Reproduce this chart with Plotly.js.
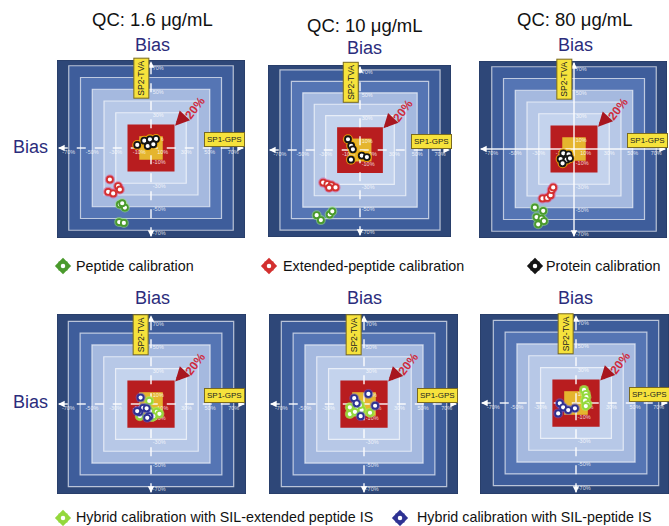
<!DOCTYPE html>
<html>
<head>
<meta charset="utf-8">
<script src="https://cdn.plot.ly/plotly-3.0.1.min.js"></script>
<style>html,body{margin:0;padding:0;background:#fff;}#chart{width:669px;height:526px;}</style>
</head>
<body>
<div id="chart"></div>
<script>
// ---------------- DATA ----------------
const qcTitles = ['QC: 1.6 μg/mL', 'QC: 10 μg/mL', 'QC: 80 μg/mL'];
const biasLabel = 'Bias';
const tickVals = [-70, -50, -30, -10, 10, 30, 50, 70];
const tickLabels = ['-70%', '-50%', '-30%', '-10%', '10%', '30%', '50%', '70%'];
const ringLevels = [70, 60, 50, 40, 30];
const redLevel = 20;
const yellowLevel = 10;
const axisXLabel = 'SP1-GPS';
const axisYLabel = 'SP2-TVA';
const limitLabel = '20%';

// Top row (per QC level): bias on SP1-GPS (x) and SP2-TVA (y), %
const peptideX  = [[-26.5, -22.2, -24.5, -27.1, -23.1], [-37.9, -34.2, -26.5, -24.2], [-33.3, -26.2, -31.9, -27.6, -25.6, -30.5]];
const peptideY  = [[-48.1, -50.7, -47.0, -63.0, -63.8], [-57.0, -61.3, -56.4, -53.6], [-49.8, -52.6, -57.9, -59.2, -61.3, -64.1]];
const extendedX = [[-35.0, -28.0, -26.5, -36.5, -32.2], [-32.2, -28.5, -25.0, -21.4, -27.0], [-26.8, -22.8, -19.9, -19.0, -17.7]];
const extendedY = [[-26.8, -32.5, -35.3, -37.3, -38.7], [-28.5, -29.9, -30.8, -32.7, -33.0], [-42.1, -41.6, -39.3, -35.0, -32.7]];
const proteinX  = [[-11.7, -5.7, -0.9, 4.3, -2.8, 2.0], [-10.5, -7.7, -6.2, -7.9, 1.5, 6.0], [-9.1, -4.6, -11.4, -6.3, -9.7, -3.4]];
const proteinY  = [[2.6, 6.2, 7.4, 7.7, 1.7, 3.2], [9.4, 3.7, 0.6, -8.5, -4.9, -6.2], [-3.7, -4.5, -8.5, -9.1, -12.2, -7.9]];
// Bottom row (per QC level)
const silExtX = [[-1.5, -0.9, 4.9, 7.1, 0.6, -9.4, 2.0], [-12.0, -5.7, -2.0, -12.0, -7.7, 5.1, -3.4], [6.8, 8.3, 8.8, 7.7, 9.7, 8.3]];
const silExtY = [[2.6, -6.0, -6.6, -8.3, -11.1, -10.3, -10.3], [-2.8, -3.7, -5.1, -8.5, -6.6, -7.4, -0.9], [11.1, 7.7, 4.9, 2.0, -0.9, -2.6]];
const silPepX = [[-8.8, -6.6, -10.0, -3.7, -1.5, -11.7, -3.2], [3.7, -8.3, -6.2, 9.4, -2.8], [-15.1, -13.7, -10.9, -6.6, -0.9]];
const silPepY = [[5.4, -3.2, -6.8, -3.7, -10.3, -6.0, -11.7], [8.5, 4.9, 0.6, -1.5, -10.3], [-8.8, -0.3, -3.7, -6.0, -4.5]];

const topSeries = ['Peptide calibration', 'Extended-peptide calibration', 'Protein calibration'];
const bottomSeries = ['Hybrid calibration with SIL-extended peptide IS', 'Hybrid calibration with SIL-peptide IS'];

// ---------------- STYLE / LAYOUT ----------------
const W = 669, H = 526;
const FONT = '"Liberation Sans", Arial, sans-serif';
const panelsGeom = [
  {l: 57, r: 245, t: 60, b: 238, cx: 151, cy: 148, dash: 'dash'},
  {l: 268, r: 451, t: 65, b: 237, cx: 360, cy: 150, dash: 'dash'},
  {l: 479, r: 667, t: 61, b: 238, cx: 574, cy: 149, dash: 'solid'},
  {l: 57, r: 246, t: 314, b: 494, cx: 151, cy: 404, dash: 'dash'},
  {l: 269, r: 458, t: 314, b: 494, cx: 364, cy: 404, dash: 'dash'},
  {l: 480, r: 669, t: 314, b: 494, cx: 576, cy: 403, dash: 'dash'}
];
const bgColor = '#2e4778';
const ringColors = ['#3e5d9b', '#5575b4', '#a5b9df', '#b7c8e7', '#c4d3ed'];
const redColor = '#b81d1f';
const yellowColor = '#e5b52e';
const colPeptide = '#4a9a2c', colExtended = '#d3302f', colProtein = '#151515';
const colSilExt = '#94d83c', colSilPep = '#2e3293';

const traces = [];
const shapes = [];
const annotations = [];
const layout = {
  width: W, height: H,
  margin: {l: 0, r: 0, t: 0, b: 0},
  paper_bgcolor: '#ffffff',
  plot_bgcolor: 'rgba(0,0,0,0)',
  showlegend: false,
  font: {family: FONT}
};

function pointsTrace(xs, ys, col, halo, ax, ay, name) {
  traces.push({
    type: 'scatter', mode: 'markers', x: xs, y: ys, xaxis: ax, yaxis: ay, hoverinfo: 'skip',
    marker: {symbol: 'circle', size: 10, color: halo, line: {width: 0}}, name: name + ' halo', cliponaxis: false
  });
  traces.push({
    type: 'scatter', mode: 'markers', x: xs, y: ys, xaxis: ax, yaxis: ay, name: name,
    marker: {symbol: 'circle', size: 6, color: '#ffffff', line: {color: col, width: 1.8}}, cliponaxis: false
  });
}

panelsGeom.forEach((g, i) => {
  const n = i + 1;
  const sfx = n === 1 ? '' : String(n);
  const xa = 'x' + sfx, ya = 'y' + sfx;
  const s = (g.r - g.l) / 160;
  const xr = [(g.l - g.cx) / s, (g.r - g.cx) / s];
  const yr = [(g.cy - g.b) / s, (g.cy - g.t) / s];
  const axCommon = {visible: false, showgrid: false, zeroline: false, fixedrange: true};
  layout['xaxis' + sfx] = Object.assign({}, axCommon, {domain: [g.l / W, g.r / W], range: xr, anchor: ya});
  layout['yaxis' + sfx] = Object.assign({}, axCommon, {domain: [1 - g.b / H, 1 - g.t / H], range: yr, anchor: xa});

  // background + rings
  shapes.push({type: 'rect', xref: xa, yref: ya, x0: xr[0], x1: xr[1], y0: yr[0], y1: yr[1],
    fillcolor: bgColor, line: {color: '#24385f', width: 1}, layer: 'below'});
  ringLevels.forEach((L, k) => {
    shapes.push({type: 'rect', xref: xa, yref: ya, x0: -L, x1: L, y0: -L, y1: L,
      fillcolor: ringColors[k], line: {color: 'rgba(255,255,255,0.65)', width: 1.2}, layer: 'below'});
  });
  shapes.push({type: 'rect', xref: xa, yref: ya, x0: -redLevel, x1: redLevel, y0: -redLevel, y1: redLevel,
    fillcolor: redColor, line: {width: 0}, layer: 'below'});
  shapes.push({type: 'rect', xref: xa, yref: ya, x0: -yellowLevel, x1: yellowLevel, y0: -yellowLevel, y1: yellowLevel,
    fillcolor: yellowColor, line: {width: 0}, layer: 'below'});
  // axes lines
  shapes.push({type: 'line', xref: xa, yref: ya, x0: xr[0] + 1.5, x1: xr[1] - 1.5, y0: 0, y1: 0,
    line: {color: 'rgba(255,255,255,0.9)', width: 1.5, dash: g.dash}, layer: 'below'});
  shapes.push({type: 'line', xref: xa, yref: ya, x0: 0, x1: 0, y0: yr[0] + 1.5, y1: yr[1] - 1.5,
    line: {color: 'rgba(255,255,255,0.9)', width: 1.5, dash: g.dash}, layer: 'below'});
  // arrow heads at axis ends
  const ends = [[xr[0] + 1, 0, xr[0] + 5, 0], [xr[1] - 1, 0, xr[1] - 5, 0], [0, yr[0] + 1, 0, yr[0] + 5], [0, yr[1] - 1, 0, yr[1] - 5]];
  ends.forEach(e => {
    annotations.push({xref: xa, yref: ya, axref: xa, ayref: ya, x: e[0], y: e[1], ax: e[2], ay: e[3], text: '',
      showarrow: true, arrowhead: 2, arrowsize: 1, arrowwidth: 1.3, arrowcolor: '#ffffff'});
  });

  // tick labels (text traces)
  traces.push({type: 'scatter', mode: 'text', x: tickVals, y: tickVals.map(() => -3.8), text: tickLabels,
    textposition: 'middle center', textfont: {size: 5.5, color: 'rgba(255,255,255,0.8)', family: FONT},
    xaxis: xa, yaxis: ya, hoverinfo: 'skip', cliponaxis: false});
  traces.push({type: 'scatter', mode: 'text', x: tickVals.map(() => 1.5), y: tickVals.map(v => v - 2.5),
    text: tickLabels,
    textposition: 'middle right', textfont: {size: 5.5, color: 'rgba(255,255,255,0.8)', family: FONT},
    xaxis: xa, yaxis: ya, hoverinfo: 'skip', cliponaxis: false});

  // axis name boxes
  annotations.push({xref: xa, yref: ya, x: -8.5, y: 59, text: axisYLabel, textangle: -90, showarrow: false,
    font: {size: 8.5, color: '#222', family: FONT}, bgcolor: '#f6e23c', bordercolor: '#7a6a20', borderwidth: 1, borderpad: 2});
  annotations.push({xref: xa, yref: ya, x: 62.5, y: 7.5, text: axisXLabel, showarrow: false,
    font: {size: 8, color: '#222', family: FONT}, bgcolor: '#f6e23c', bordercolor: '#7a6a20', borderwidth: 1, borderpad: 2});
  // 20% arrow and label
  annotations.push({xref: xa, yref: ya, axref: xa, ayref: ya, x: redLevel + 0.5, y: redLevel - 1, ax: 29, ay: 28, text: '',
    showarrow: true, arrowhead: 2, arrowsize: 0.75, arrowwidth: 3.8, arrowcolor: '#a8161f'});
  annotations.push({xref: xa, yref: ya, x: 37.5, y: 34, text: '<b>' + limitLabel + '</b>', textangle: -52, showarrow: false,
    font: {size: 12, color: '#cf2b3c', family: FONT}});

  // data
  if (i < 3) {
    pointsTrace(peptideX[i], peptideY[i], colPeptide, 'rgba(150,230,120,0.55)', xa, ya, topSeries[0]);
    pointsTrace(extendedX[i], extendedY[i], colExtended, 'rgba(230,60,120,0.5)', xa, ya, topSeries[1]);
    pointsTrace(proteinX[i], proteinY[i], colProtein, 'rgba(240,170,0,0.85)', xa, ya, topSeries[2]);
  } else {
    const j = i - 3;
    pointsTrace(silExtX[j], silExtY[j], colSilExt, 'rgba(170,240,80,0.7)', xa, ya, bottomSeries[0]);
    pointsTrace(silPepX[j], silPepY[j], colSilPep, 'rgba(90,90,220,0.5)', xa, ya, bottomSeries[1]);
  }
});

// overlay axis in pixel space for legend icons (gear-like)
layout.xaxis7 = {domain: [0, 1], range: [0, W], visible: false, fixedrange: true, anchor: 'y7'};
layout.yaxis7 = {domain: [0, 1], range: [H, 0], visible: false, fixedrange: true, anchor: 'x7'};
const legendIconX = [63, 269, 535, 63, 400];
const legendIconY = [266, 266, 266, 518, 518];
const legendIconCol = [colPeptide, colExtended, colProtein, colSilExt, colSilPep];
[['circle', 9], ['square', 9], ['diamond', 12.5]].forEach(sd => {
  traces.push({type: 'scatter', mode: 'markers', x: legendIconX, y: legendIconY, xaxis: 'x7', yaxis: 'y7', hoverinfo: 'skip',
    marker: {symbol: sd[0], size: sd[1], color: legendIconCol, line: {width: 0}}});
});
traces.push({type: 'scatter', mode: 'markers', x: legendIconX, y: legendIconY, xaxis: 'x7', yaxis: 'y7', hoverinfo: 'skip',
  marker: {symbol: 'circle', size: 4.5, color: '#ffffff', line: {width: 0}}});

// text annotations in paper space
function pAnn(text, px, py, size, color, xanchor) {
  annotations.push({xref: 'paper', yref: 'paper', x: px / W, y: 1 - py / H, text: text, showarrow: false,
    xanchor: xanchor || 'center', yanchor: 'middle', font: {size: size, color: color, family: FONT}});
}
const titlePos = [[152, 20], [365, 25], [575, 20]];
const biasTopPos = [[152, 45], [364, 48], [575, 45]];
const biasBotPos = [[152, 298], [364, 298], [575, 298]];
qcTitles.forEach((t, k) => pAnn(t, titlePos[k][0], titlePos[k][1], 18.5, '#111111'));
biasTopPos.forEach(p => pAnn(biasLabel, p[0], p[1], 18, '#2b2c7c'));
biasBotPos.forEach(p => pAnn(biasLabel, p[0], p[1], 18, '#2b2c7c'));
pAnn(biasLabel, 30, 147, 18, '#2b2c7c');
pAnn(biasLabel, 30, 402, 18, '#2b2c7c');
const legendTextX = [74, 281, 544];
topSeries.forEach((t, k) => pAnn(t, legendTextX[k], 266, 14.3, '#111111', 'left'));
pAnn(bottomSeries[0], 74, 517, 14.3, '#111111', 'left');
pAnn(bottomSeries[1], 415, 517, 14.3, '#111111', 'left');

layout.shapes = shapes;
layout.annotations = annotations;

Plotly.newPlot('chart', traces, layout, {staticPlot: true, displayModeBar: false});
</script>
</body>
</html>
